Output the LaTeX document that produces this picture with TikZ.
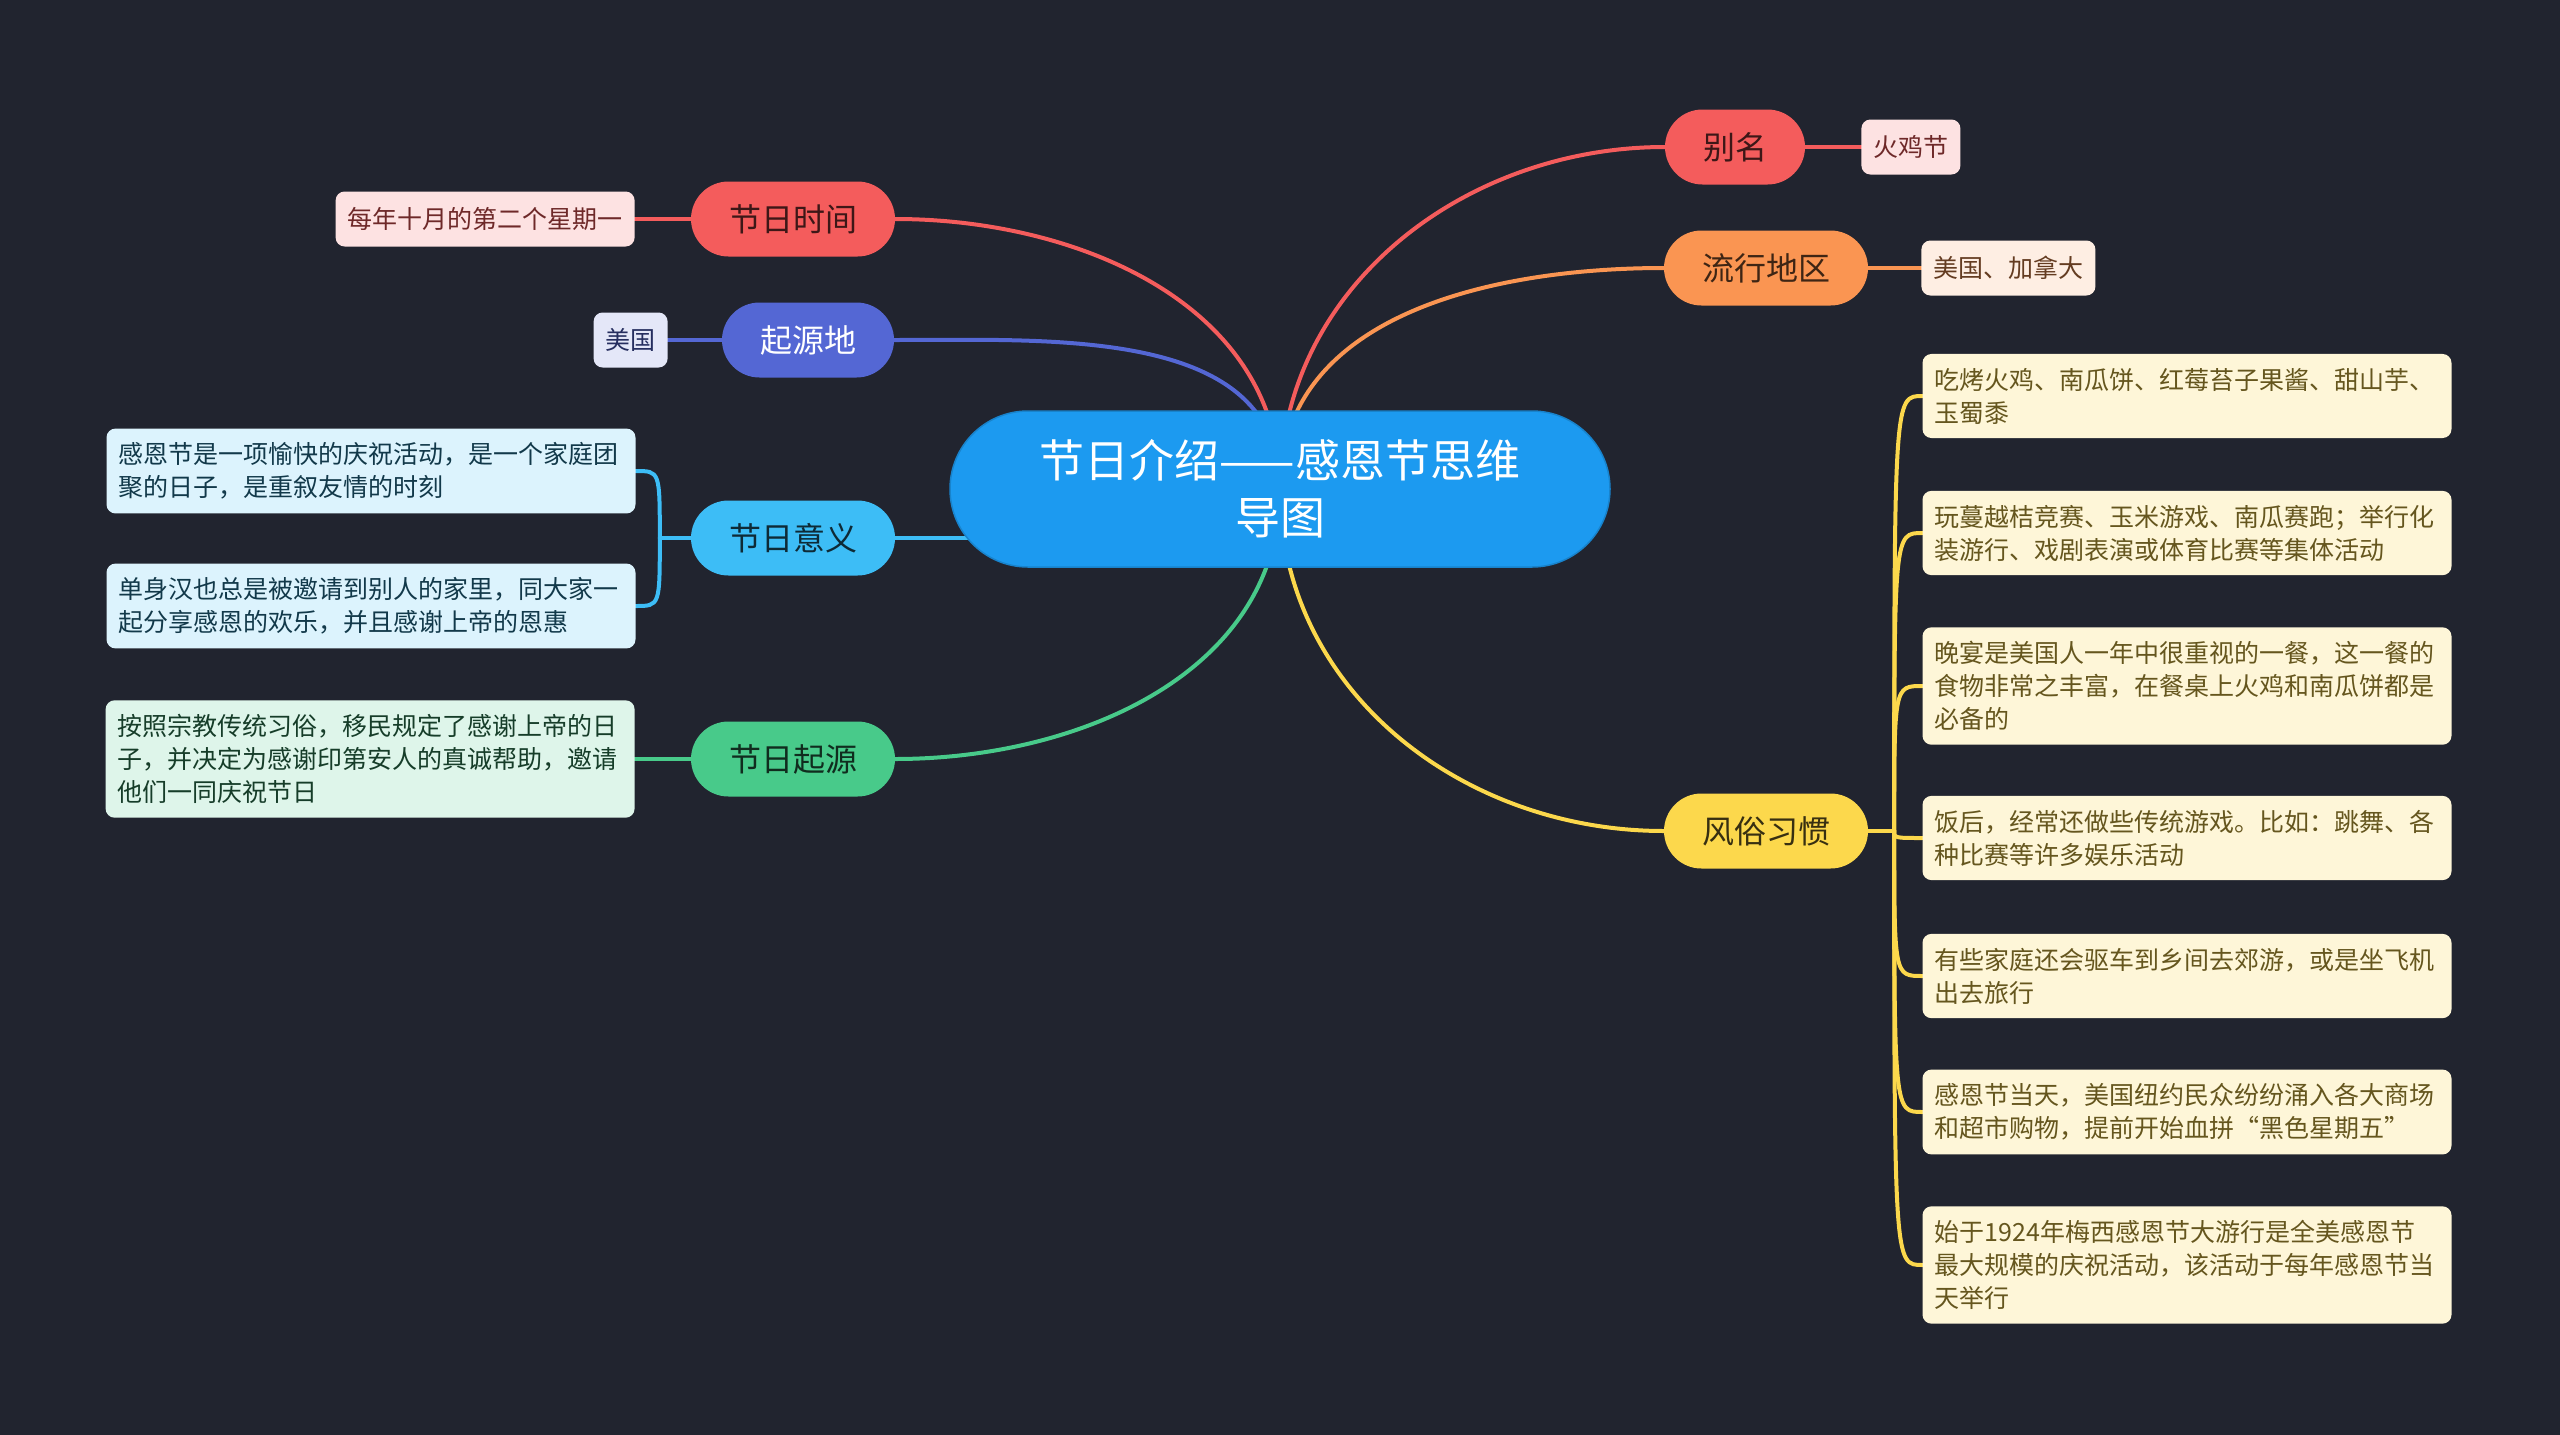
\documentclass[tikz,border=0pt]{standalone}
\usepackage{fontspec}
\setmainfont{Noto Sans CJK SC}
\usetikzlibrary{
    positioning,
    backgrounds,
    calc
}

\definecolor{bgdark}{HTML}{21242F}
\definecolor{rootblue}{HTML}{1C9AF0}
\definecolor{redbr}{HTML}{F45C5C}
\definecolor{indigobr}{HTML}{5467D4}
\definecolor{skybr}{HTML}{3DBDF6}
\definecolor{greenbr}{HTML}{48CA8A}
\definecolor{orangebr}{HTML}{FA9552}
\definecolor{yellowbr}{HTML}{FCD84C}

\begin{document}
\begin{tikzpicture}[
    x=1pt, y=-1pt,
    rootbox/.style={rectangle, fill=rootblue, draw=rootblue!85!black, line width=1.5pt, rounded corners=78pt, minimum width=660pt, minimum height=156pt, align=center, text=white, font=\fontsize{45pt}{57pt}\selectfont},
    branchbox/.style={rectangle, rounded corners=37.5pt, minimum height=75pt, inner xsep=38pt, inner ysep=0pt, font=\fontsize{32pt}{38pt}\selectfont},
    leafbox/.style={rectangle, rounded corners=9pt, minimum height=55pt, inner xsep=12pt, inner ysep=14pt, font=\fontsize{25pt}{33pt}\selectfont},
    notebox/.style={leafbox, text width=505pt, align=left},
    link/.style={line width=4pt, line cap=round}
]
% centre
\node[rootbox] (root) at (1280,489) {节日介绍——感恩节思维\\导图};

% left side
\node[branchbox, fill=redbr, text=redbr!25!black] (time) at (793,219) {节日时间};
\node[leafbox, left=56pt of time, fill=redbr!18!white, text=redbr!45!black] (timeleaf) {每年十月的第二个星期一};

\node[branchbox, fill=indigobr, text=white] (origin) at (808,340) {起源地};
\node[leafbox, left=54pt of origin, fill=indigobr!16!white, text=indigobr!45!black] (originleaf) {美国};

\node[branchbox, fill=skybr, text=skybr!22!black] (meaning) at (793,538) {节日意义};
\node[notebox, fill=skybr!18!white, text=skybr!30!black] (meanone) at (371,471) {感恩节是一项愉快的庆祝活动，是一个家庭团\\聚的日子，是重叙友情的时刻};
\node[notebox, fill=skybr!18!white, text=skybr!30!black] (meantwo) at (371,606) {单身汉也总是被邀请到别人的家里，同大家一\\起分享感恩的欢乐，并且感谢上帝的恩惠};

\node[branchbox, fill=greenbr, text=greenbr!22!black] (source) at (793,759) {节日起源};
\node[notebox, left=56pt of source, fill=greenbr!18!white, text=greenbr!30!black] (sourceleaf) {按照宗教传统习俗，移民规定了感谢上帝的日\\子，并决定为感谢印第安人的真诚帮助，邀请\\他们一同庆祝节日};

% right side
\node[branchbox, fill=redbr, text=redbr!25!black] (alias) at (1735,147) {别名};
\node[leafbox, right=56pt of alias, fill=redbr!18!white, text=redbr!45!black] (aliasleaf) {火鸡节};

\node[branchbox, fill=orangebr, text=orangebr!25!black] (region) at (1766,268) {流行地区};
\node[leafbox, right=53pt of region, fill=orangebr!16!white, text=orangebr!40!black] (regionleaf) {美国、加拿大};

\node[branchbox, fill=yellowbr, text=yellowbr!22!black] (custom) at (1766,831) {风俗习惯};
\node[notebox, fill=yellowbr!22!white, text=yellowbr!40!black] (cusone) at (2187,396) {吃烤火鸡、南瓜饼、红莓苔子果酱、甜山芋、\\玉蜀黍};
\node[notebox, fill=yellowbr!22!white, text=yellowbr!40!black] (custwo) at (2187,533) {玩蔓越桔竞赛、玉米游戏、南瓜赛跑；举行化\\装游行、戏剧表演或体育比赛等集体活动};
\node[notebox, fill=yellowbr!22!white, text=yellowbr!40!black] (custhree) at (2187,686) {晚宴是美国人一年中很重视的一餐，这一餐的\\食物非常之丰富，在餐桌上火鸡和南瓜饼都是\\必备的};
\node[notebox, fill=yellowbr!22!white, text=yellowbr!40!black] (cusfour) at (2187,838) {饭后，经常还做些传统游戏。比如：跳舞、各\\种比赛等许多娱乐活动};
\node[notebox, fill=yellowbr!22!white, text=yellowbr!40!black] (cusfive) at (2187,976) {有些家庭还会驱车到乡间去郊游，或是坐飞机\\出去旅行};
\node[notebox, fill=yellowbr!22!white, text=yellowbr!40!black] (cussix) at (2187,1112) {感恩节当天，美国纽约民众纷纷涌入各大商场\\和超市购物，提前开始血拼“黑色星期五”};
\node[notebox, fill=yellowbr!22!white, text=yellowbr!40!black] (cusseven) at (2187,1265) {始于1924年梅西感恩节大游行是全美感恩节\\最大规模的庆祝活动，该活动于每年感恩节当\\天举行};

\coordinate (mhub) at ($(meaning.west)+(-31,0)$);
\coordinate (chub) at ($(custom.east)+(26,0)$);

\begin{scope}[on background layer]
\fill[bgdark] (0,0) rectangle (2560,1435);
% root to branches
\draw[link, redbr] (root.center) to[out=90, in=0] (time.east);
\draw[link, indigobr] (root.center) to[out=90, in=0] (origin.east);
\draw[link, skybr] (meaning.east -| root.center) -- (meaning.east);
\draw[link, greenbr] (root.center) to[out=-90, in=0] (source.east);
\draw[link, redbr] (root.center) to[out=90, in=180] (alias.west);
\draw[link, orangebr] (root.center) to[out=90, in=180] (region.west);
\draw[link, yellowbr] (root.center) to[out=-90, in=180] (custom.west);
% branches to leaves
\draw[link, redbr] (time) -- (timeleaf);
\draw[link, indigobr] (origin) -- (originleaf);
\draw[link, greenbr] (source) -- (sourceleaf);
\draw[link, redbr] (alias) -- (aliasleaf);
\draw[link, orangebr] (region) -- (regionleaf);
\draw[link, skybr] (meaning.west) -- (mhub);
\foreach \leaf in {meanone, meantwo}
    \draw[link, skybr] (mhub) .. controls (mhub |- \leaf) and (mhub |- \leaf) .. (\leaf.east);
\draw[link, yellowbr] (custom.east) -- (chub);
\foreach \leaf in {cusone, custwo, custhree, cusfour, cusfive, cussix, cusseven}
    \draw[link, yellowbr] (chub) .. controls (chub |- \leaf) and (chub |- \leaf) .. (\leaf.west);
\end{scope}
\end{tikzpicture}
\end{document}
